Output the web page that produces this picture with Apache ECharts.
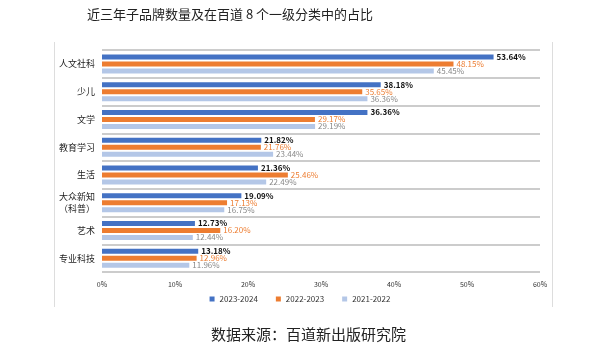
<!DOCTYPE html>
<html><head><meta charset="utf-8">
<script src="https://cdn.jsdelivr.net/npm/echarts@6/dist/echarts.min.js"></script>
<style>html,body{margin:0;padding:0;background:#fff}#c{width:600px;height:346px}</style>
</head><body><div id="c"></div>
<script>
const categories = ['人文社科','少儿','文学','教育学习','生活','大众新知\n（科普）','艺术','专业科技'];
const seriesNames = ['2023-2024','2022-2023','2021-2022'];
const s2023 = [53.64,38.18,36.36,21.82,21.36,19.09,12.73,13.18];
const s2022 = [48.15,35.65,29.17,21.76,25.46,17.13,16.20,12.96];
const s2021 = [45.45,36.36,29.19,23.44,22.49,16.75,12.44,11.96];
const xTicks = [0,10,20,30,40,50,60];

const colors = ['#4472C4','#ED7D31','#B4C7E7'];
const labelColors = ['#111','#ED7D31','#888'];
const labelWeights = ['bold','normal','normal'];
const font = '"Noto Sans CJK SC", "Noto Sans", sans-serif';
const chart = echarts.init(document.getElementById('c'));
const data = [s2023,s2022,s2021];
chart.setOption({
  animation:false,
  title:[{text:'近三年子品牌数量及在百道 8 个一级分类中的占比',left:82,top:3,textStyle:{fontFamily:font,fontSize:13,fontWeight:'normal',color:'#222'}},
         {text:'数据来源：百道新出版研究院',left:206,top:322,textStyle:{fontFamily:font,fontSize:15,fontWeight:'normal',color:'#222'}}],
  graphic:[
    {type:'line',shape:{x1:54.5,y1:42,x2:54.5,y2:307},style:{stroke:'#ddd',lineWidth:1}},
    {type:'line',shape:{x1:552.5,y1:42,x2:552.5,y2:307},style:{stroke:'#ddd',lineWidth:1}}
  ],
  legend:{bottom:38,left:'center',itemWidth:5,itemHeight:5,itemGap:18,icon:'rect',
    textStyle:{fontFamily:font,fontSize:8,color:'#333'},data:seriesNames},
  grid:{left:102,right:60,top:50,bottom:74,containLabel:false},
  xAxis:{type:'value',min:0,max:60,interval:10,
    axisLabel:{formatter:v=>v+'%',fontSize:7,color:'#333',fontFamily:font,margin:9},
    splitLine:{show:false},axisLine:{show:false},axisTick:{show:false}},
  yAxis:{type:'category',data:categories,inverse:true,
    axisLabel:{fontSize:9,color:'#222',fontFamily:font,margin:7,lineHeight:12},
    axisTick:{show:false},axisLine:{show:false},
    splitLine:{show:true,interval:0,lineStyle:{color:'#bbb',width:1.5}}},
  series: seriesNames.map((n,i)=>({
    name:n,type:'bar',data:data[i],barWidth:5,barGap:'40%',
    itemStyle:{color:colors[i]},
    label:{show:true,position:'right',distance:3,formatter:p=>p.value.toFixed(2)+'%',
      fontSize:8,color:labelColors[i],fontWeight:labelWeights[i],fontFamily:font}
  }))
});
</script></body></html>
